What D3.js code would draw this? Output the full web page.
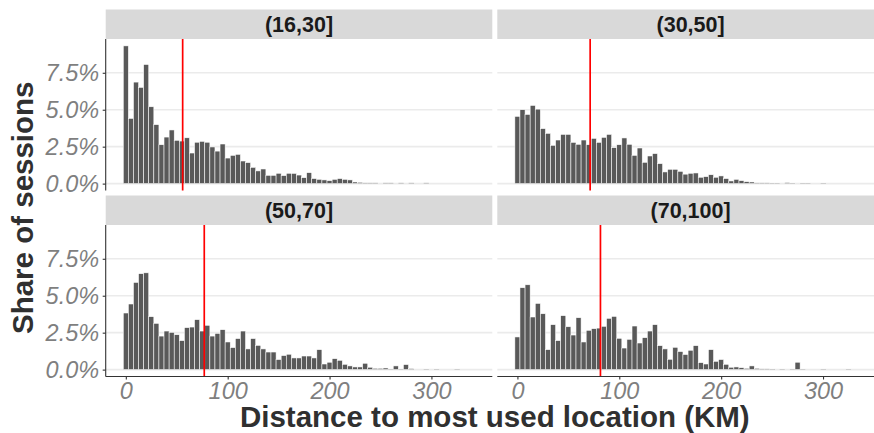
<!DOCTYPE html>
<html><head><meta charset="utf-8">
<script src="https://cdn.jsdelivr.net/npm/d3@7"></script>
<style>body{margin:0;background:#fff}svg{display:block;font-family:"Liberation Sans",Arial,sans-serif}</style>
</head><body>
<svg id="c" width="874" height="433"></svg>
<script>
// ---- data ----
const facetLabels = ["(16,30]", "(30,50]", "(50,70]", "(70,100]"];
const binWidth = 5; // km, bins centred at 0,5,10,...
const shares16_30 = [9.32,4.41,6.87,6.51,8.06,5.2,3.99,2.63,3.15,3.63,2.93,2.88,3.1,2.07,2.8,2.86,2.8,2.48,2.2,2.68,1.73,1.91,1.98,1.53,1.42,1.1,0.86,0.99,0.56,0.56,0.7,0.54,0.7,0.69,0.58,0.4,0.74,0.34,0.29,0.25,0.2,0.29,0.34,0.29,0.25,0.11,0.09,0.05,0.05,0.05,0,0.05,0.05,0,0.05,0,0.05,0,0,0.05];
const shares30_50 = [4.55,5.0,4.68,5.29,5.04,3.72,3.4,2.59,2.95,3.33,3.33,2.79,2.66,2.95,2.63,3.06,2.79,3.13,3.33,2.43,2.63,3.09,2.66,1.91,2.41,1.44,1.87,2.03,1.35,0.79,0.97,0.97,0.83,0.64,0.7,0.72,0.43,0.47,0.6,0.43,0.52,0.34,0.18,0.29,0.2,0.13,0.11,0.05,0.05,0.05,0.04,0.04,0,0.07,0.04,0,0.04,0.04,0,0,0.04];
const shares50_70 = [3.83,4.44,5.9,6.49,6.55,3.58,3.13,2.27,2.61,2.52,2.36,1.96,2.84,2.88,3.38,2.61,3.0,2.27,2.45,2.7,1.87,1.49,2.1,2.61,1.4,2.1,1.64,1.4,1.19,1.19,0.68,0.95,1.04,0.79,0.79,0.92,0.92,0.79,1.35,0.38,0.5,0.74,0.63,0.36,0.25,0.18,0.18,0.43,0.16,0.09,0.09,0.11,0.04,0.25,0.04,0.34,0.07,0,0,0.04,0,0.04,0,0,0,0.04];
const shares70_100 = [2.21,5.54,5.74,3.56,4.48,3.78,1.35,3.04,1.96,3.65,2.9,2.34,3.51,1.87,2.66,2.77,2.81,2.93,3.47,3.6,2.12,1.46,2.05,2.95,1.8,2.16,2.61,3.04,1.62,1.4,0.7,1.51,1.22,1.02,1.31,1.62,0.47,0.38,1.35,0.56,0.68,0.36,0.16,0.18,0.13,0.09,0.25,0.09,0.05,0.05,0.04,0,0.04,0,0.04,0.5,0.04,0,0,0,0.04,0,0,0,0,0.04];
const medianKm = [55.8, 71.4, 77, 81.5];
const yTicks = [0, 2.5, 5, 7.5];
const xTicks = [0, 100, 200, 300];
const binRange = [-2.5, 342.5]; // outer edges of the histogram bins
const yTitle = "Share of sessions";
const xTitle = "Distance to most used location (KM)";

const seriesList = [shares16_30, shares30_50, shares50_70, shares70_100];

// ---- layout ----
const svg = d3.select("#c");
svg.append("rect").attr("width", 874).attr("height", 433).attr("fill", "#fff");
const colX = [105.7, 497.3], panelW = 386.6;
const stripY = [9.5, 195.5], stripH = 29.5, panelH = 151.5;

const span = binRange[1] - binRange[0];
const x = d3.scaleLinear().domain([binRange[0] - 0.05 * span, binRange[1] + 0.05 * span]).range([0, panelW]);
const maxV = d3.max(seriesList.flat());
const y = d3.scaleLinear().domain([-0.05 * maxV, maxV * 1.05]).range([panelH, 0]);

seriesList.forEach((vals, k) => {
  const col = k % 2, row = Math.floor(k / 2);
  const px = colX[col], sy = stripY[row], py = sy + stripH;
  // strip
  svg.append("rect").attr("x", px).attr("y", sy).attr("width", panelW).attr("height", stripH).attr("fill", "#d9d9d9");
  svg.append("text").attr("x", px + panelW / 2).attr("y", sy + stripH / 2).attr("dy", "0.36em")
    .attr("text-anchor", "middle").attr("font-size", 21.5).attr("font-weight", "bold").attr("fill", "#1a1a1a")
    .text(facetLabels[k]);
  const g = svg.append("g").attr("transform", `translate(${px},${py})`);
  // grid
  g.selectAll("line.grid").data(yTicks).join("line").attr("class", "grid")
    .attr("x1", 0).attr("x2", panelW).attr("y1", d => y(d)).attr("y2", d => y(d))
    .attr("stroke", "#ebebeb").attr("stroke-width", 1.6);
  // bars
  const bins = vals.map((v, i) => ({c: i * binWidth, v})).filter(d => d.v > 0);
  g.selectAll("rect.bar").data(bins).join("rect").attr("class", "bar")
    .attr("x", d => x(d.c - binWidth / 2)).attr("width", d => x(d.c + binWidth / 2) - x(d.c - binWidth / 2))
    .attr("y", d => y(d.v)).attr("height", d => y(0) - y(d.v))
    .attr("fill", "#595959").attr("stroke", "#fff").attr("stroke-width", 0.55);
  // median line
  g.append("line").attr("x1", x(medianKm[k])).attr("x2", x(medianKm[k])).attr("y1", 0).attr("y2", panelH)
    .attr("stroke", "#ff0000").attr("stroke-width", 1.7);
  // axes
  if (col === 0) {
    const ya = g.append("g").call(d3.axisLeft(y).tickValues(yTicks).tickSize(3).tickPadding(3.5)
      .tickFormat(d => d.toFixed(1) + "%"));
    ya.select(".domain").remove();
    ya.append("line").attr("x1", 0).attr("x2", 0).attr("y1", 0).attr("y2", panelH).attr("stroke", "#333").attr("stroke-width", 1.1);
    ya.selectAll(".tick line").attr("stroke", "#333").attr("stroke-width", 1.1);
    ya.selectAll(".tick text").attr("font-size", 23.5).attr("font-style", "italic").attr("fill", "#7f7f7f")
      .attr("font-family", "Liberation Sans, Arial, sans-serif");
  }
  if (row === 1) {
    const xa = g.append("g").attr("transform", `translate(0,${panelH})`)
      .call(d3.axisBottom(x).tickValues(xTicks).tickSize(3).tickPadding(3).tickFormat(d3.format("d")));
    xa.select(".domain").remove();
    xa.append("line").attr("x1", 0).attr("x2", panelW).attr("y1", 0).attr("y2", 0).attr("stroke", "#333").attr("stroke-width", 1.1);
    xa.selectAll(".tick line").attr("stroke", "#333").attr("stroke-width", 1.1);
    xa.selectAll(".tick text").attr("font-size", 23.5).attr("font-style", "italic").attr("fill", "#7f7f7f")
      .attr("font-family", "Liberation Sans, Arial, sans-serif");
  }
});

// axis titles
const midY = (stripY[0] + stripH + stripY[1] + stripH + panelH) / 2;
svg.append("text").attr("transform", `translate(33.3,${midY}) rotate(-90)`)
  .attr("text-anchor", "middle").attr("font-size", 29.5).attr("font-weight", "bold").attr("fill", "#303030").text(yTitle);
svg.append("text").attr("x", (colX[0] + colX[1] + panelW) / 2).attr("y", 426.7)
  .attr("text-anchor", "middle").attr("font-size", 29.5).attr("font-weight", "bold").attr("fill", "#303030").text(xTitle);
</script>
</body></html>
